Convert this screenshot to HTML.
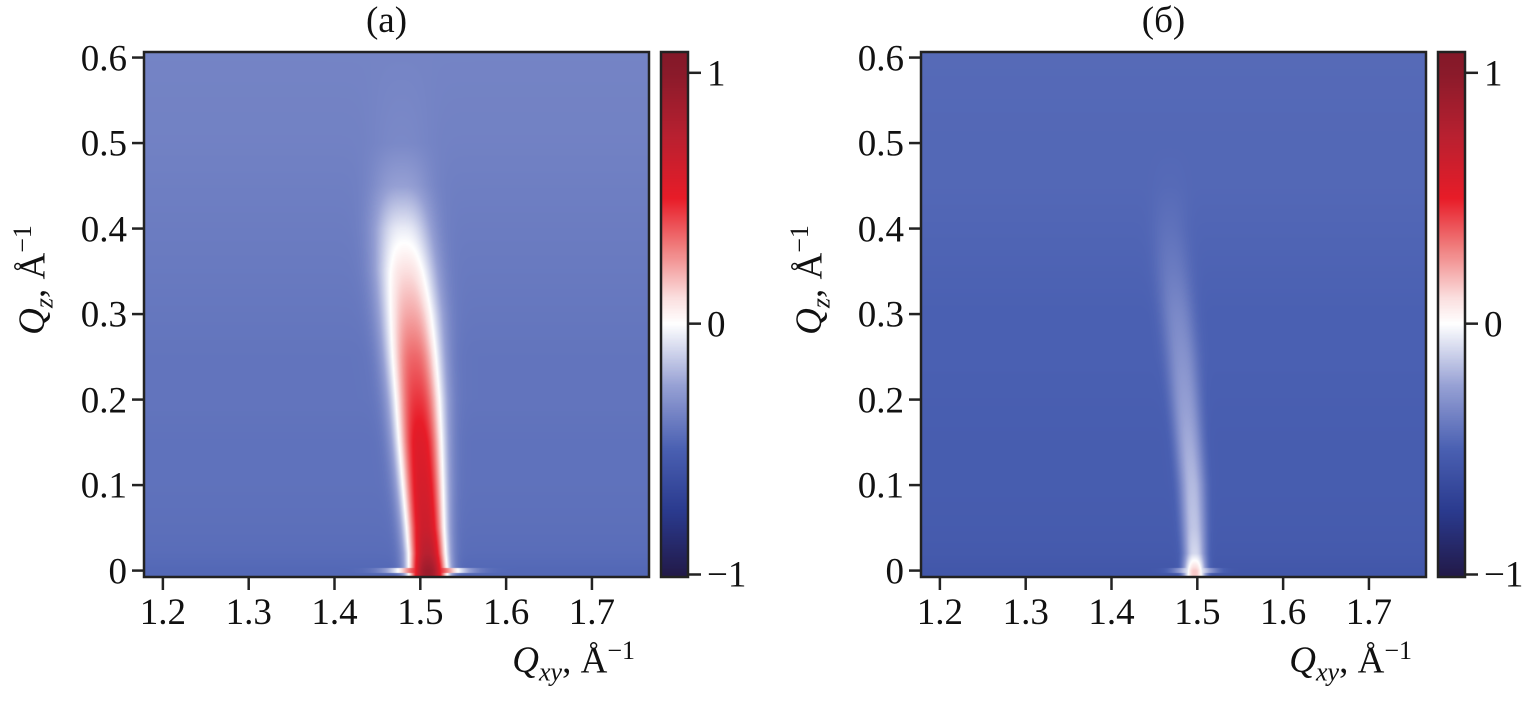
<!DOCTYPE html>
<html><head><meta charset="utf-8"><style>
body{margin:0;background:#fff;width:1535px;height:701px;overflow:hidden;position:relative;font-family:"Liberation Serif",serif;color:#111}
canvas{position:absolute}
.t{position:absolute;font-size:37px;line-height:1;white-space:nowrap}
svg{position:absolute;left:0;top:0}
</style></head><body>
<canvas id="hmA" width="505" height="525" style="left:144px;top:52px"></canvas>
<canvas id="hmB" width="505" height="525" style="left:921px;top:52px"></canvas>
<canvas id="cbA" width="27" height="525" style="left:661px;top:52px"></canvas>
<canvas id="cbB" width="27" height="525" style="left:1438px;top:52px"></canvas>
<svg id="ax" width="1535" height="701"></svg>
<div id="lbl"></div>
<script>
// data
const qzKnots=[0,0.02,0.05,0.1,0.15,0.2,0.25,0.3,0.35,0.4,0.45,0.5,0.61];
const bgA=[-0.47,-0.45,-0.44,-0.43,-0.43,-0.42,-0.42,-0.41,-0.4,-0.39,-0.38,-0.37,-0.36];
const peakA=[0.9,0.75,0.65,0.6,0.55,0.45,0.35,0.22,0.1,-0.05,-0.25,-0.34,-0.36];
const centerA=[1.509,1.508,1.506,1.503,1.5,1.497,1.493,1.489,1.484,1.48,1.478,1.478,1.478];
const widthA=[0.022,0.022,0.023,0.025,0.027,0.029,0.031,0.033,0.034,0.034,0.034,0.034,0.034];
const bgB=[-0.56,-0.54,-0.53,-0.52,-0.52,-0.51,-0.5,-0.5,-0.49,-0.48,-0.47,-0.47,-0.46];
const peakB=[0.15,-0.1,-0.15,-0.18,-0.22,-0.26,-0.3,-0.34,-0.39,-0.43,-0.46,-0.47,-0.46];
const centerB=[1.497,1.497,1.496,1.494,1.49,1.486,1.482,1.477,1.472,1.468,1.468,1.468,1.468];
const widthB=[0.013,0.013,0.014,0.015,0.016,0.017,0.018,0.019,0.02,0.02,0.02,0.02,0.02];
const xTicks=[1.2,1.3,1.4,1.5,1.6,1.7];
const yTicks=[0,0.1,0.2,0.3,0.4,0.5,0.6];
const cbTicks=[1,0,-1];
const cbTickLabels=["1","0","\u22121"];

const X0=1.178,X1=1.7665,Y0=-0.0075,Y1=0.6065,W=505,H=525,CB0=-1.01,CB1=1.083;
const stops=[[-1,[34,26,74]],[-0.75,[42,58,142]],[-0.5,[74,96,178]],[-0.25,[150,160,212]],[0,[255,255,255]],[0.1,[251,224,224]],[0.3,[240,128,128]],[0.5,[232,28,40]],[0.75,[184,32,48]],[1,[138,26,42]],[1.1,[130,24,40]]];
function cmap(v){if(v<=stops[0][0])return stops[0][1];for(let i=1;i<stops.length;i++){if(v<=stops[i][0]){const a=stops[i-1],b=stops[i],t=(v-a[0])/(b[0]-a[0]);return a[1].map((c,k)=>c+(b[1][k]-c)*t);}}return stops[stops.length-1][1];}
function interp(arr,q){if(q<=qzKnots[0])return arr[0];for(let i=1;i<qzKnots.length;i++){if(q<=qzKnots[i]){const t=(q-qzKnots[i-1])/(qzKnots[i]-qzKnots[i-1]);return arr[i-1]+(arr[i]-arr[i-1])*t;}}return arr[arr.length-1];}
function drawHM(id,bg,pk,ce,wd){const c=document.getElementById(id).getContext('2d');const img=c.createImageData(W,H);
for(let y=0;y<H;y++){const q=Y1-(y+0.5)/H*(Y1-Y0);const qq=Math.max(q,0);const b=interp(bg,qq),p=interp(pk,qq),cc=interp(ce,qq),w=interp(wd,qq);
for(let x=0;x<W;x++){const qx=X0+(x+0.5)/W*(X1-X0);const d=(qx-cc)/w;let v=b+(p-b)*Math.exp(-Math.pow(Math.abs(d),2.5));
if(Math.abs(q)<0.003){v=Math.max(v, b+(p-b)*0.8*Math.exp(-d*d/3));}
const col=cmap(v);const o=(y*W+x)*4;img.data[o]=col[0];img.data[o+1]=col[1];img.data[o+2]=col[2];img.data[o+3]=255;}}
c.putImageData(img,0,0);}
function drawCB(id){const c=document.getElementById(id).getContext('2d');for(let y=0;y<H;y++){const v=CB1-(y+0.5)/H*(CB1-CB0);const col=cmap(v);c.fillStyle=`rgb(${col.map(Math.round).join(',')})`;c.fillRect(0,y,27,1);}}
drawHM('hmA',bgA,peakA,centerA,widthA);drawHM('hmB',bgB,peakB,centerB,widthB);drawCB('cbA');drawCB('cbB');

const svg=document.getElementById('ax'),L=document.getElementById('lbl');const NS='http://www.w3.org/2000/svg';
function line(x1,y1,x2,y2,n){const e=document.createElementNS(NS,'line');e.setAttribute('x1',x1);e.setAttribute('y1',y1);e.setAttribute('x2',x2);e.setAttribute('y2',y2);e.setAttribute('stroke','#222');e.setAttribute('stroke-width','2.5');


svg.appendChild(e);}
function rect(x,y,w,h,n){const e=document.createElementNS(NS,'rect');e.setAttribute('x',x);e.setAttribute('y',y);e.setAttribute('width',w);e.setAttribute('height',h);e.setAttribute('fill','none');e.setAttribute('stroke','#222');e.setAttribute('stroke-width','2.5');


svg.appendChild(e);}
function text(html,x,y,anchor,n){const d=document.createElement('div');d.className='t';d.innerHTML=html;d.style.left=x+'px';d.style.top=y+'px';d.style.transform=anchor;


L.appendChild(d);}
[[144,661,'a'],[921,1438,'b']].forEach(([px,cx,p])=>{
 const sx=v=>px+(v-X0)/(X1-X0)*W, sy=v=>52+(Y1-v)/(Y1-Y0)*H, sc=v=>52+(CB1-v)/(CB1-CB0)*H;
 rect(px,52,W,H,'plot-frame-'+p);rect(cx,52,27,H,'colorbar-frame-'+p);
 xTicks.forEach(t=>{line(sx(t),577,sx(t),590,'x-tick-'+p);text(t.toFixed(1),sx(t),594,'translateX(-50%)','x-tick-label-'+p);});
 yTicks.forEach(t=>{line(px-12,sy(t),px,sy(t),'y-tick-'+p);text(t===0?'0':t.toFixed(1),px-17,sy(t)+1,'translate(-100%,-50%)','y-tick-label-'+p);});
 cbTicks.forEach((t,i)=>{line(cx+27,sc(t),cx+40,sc(t),'colorbar-tick-'+p);text(cbTickLabels[i],cx+46,sc(t)+1,'translateY(-50%)','colorbar-tick-label-'+p);});
 text('<i>Q<sub style="font-size:26px">xy</sub></i>, Å<sup style="font-size:26px">−1</sup>',px+W-14,638,'translateX(-100%)','x-axis-title-'+p);
 text('<i>Q<sub style="font-size:26px">z</sub></i>, Å<sup style="font-size:26px">−1</sup>',px-110,280,'translate(-50%,-50%) rotate(-90deg)','y-axis-title-'+p);
 text(p==='a'?'(a)':'(б)',px+W/2-10,2,'translateX(-50%)','panel-title-'+p);
});
</script>
</body></html>
